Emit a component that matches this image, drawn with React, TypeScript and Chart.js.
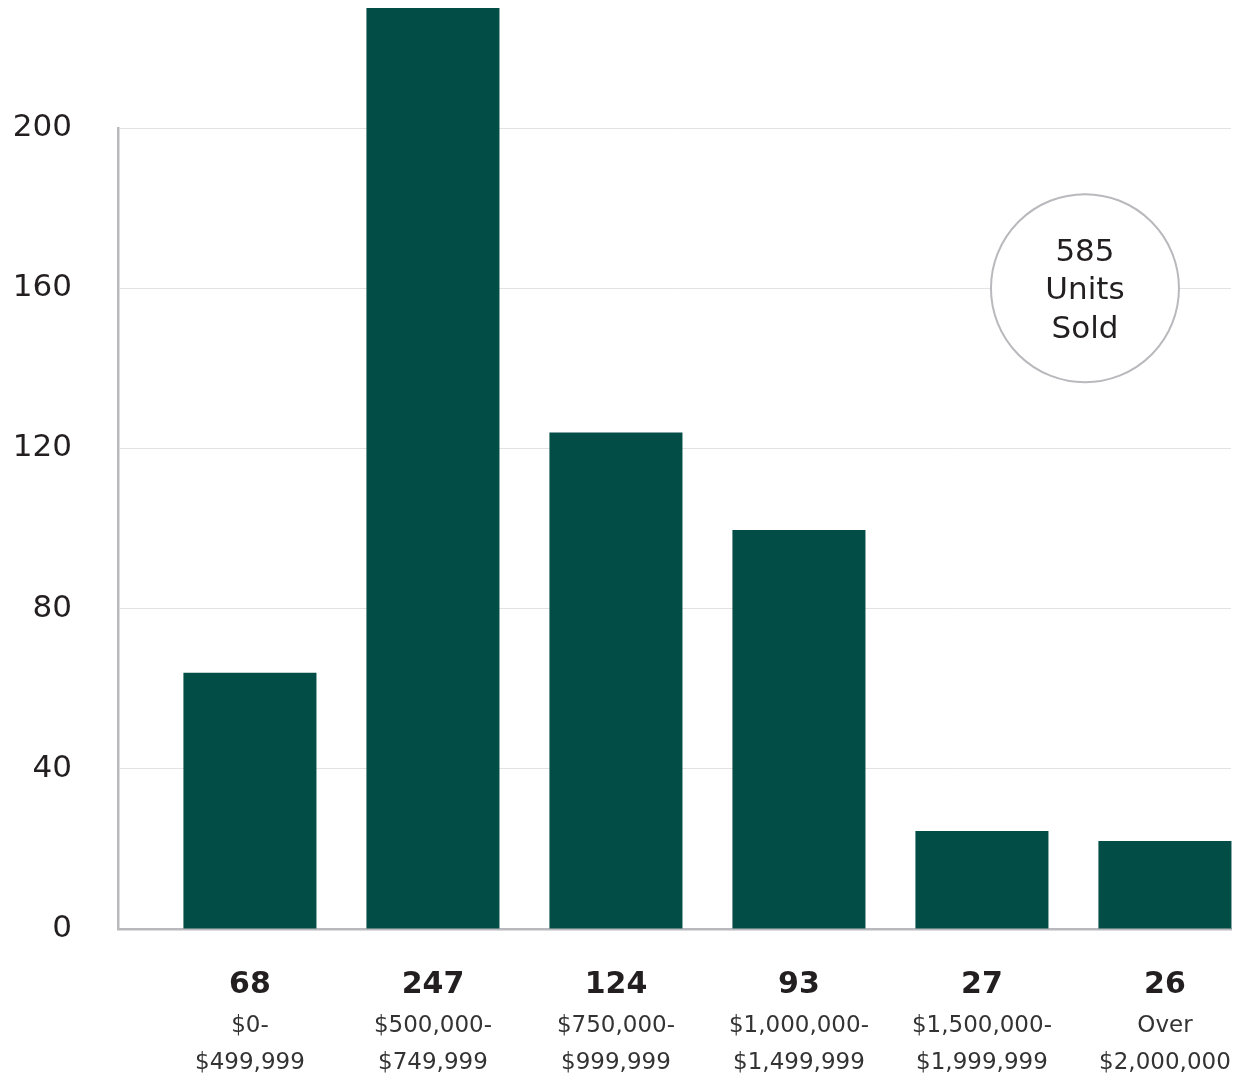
import React, { useEffect, useRef } from "react";
import { Chart, registerables } from "chart.js";

Chart.register(...registerables);

const counts = ["68", "247", "124", "93", "27", "26"];
const rangeLine1 = ["$0-", "$500,000-", "$750,000-", "$1,000,000-", "$1,500,000-", "Over"];
const rangeLine2 = ["$499,999", "$749,999", "$999,999", "$1,499,999", "$1,999,999", "$2,000,000"];
const barValues = [64, 247, 124, 99.6, 24.5, 22];
const yTicks = [0, 40, 80, 120, 160, 200];
const badgeLines = ["585", "Units", "Sold"];

const FONT = "'DejaVu Sans', sans-serif";
const BAR = "#024d46";
const AXIS = "#b9b9bd";

const labelsPlugin = {
  id: "customLabels",
  afterDraw(chart: any) {
    const ctx = chart.ctx;
    const xs = chart.scales.x;
    const ys = chart.scales.y;
    ctx.save();
    ctx.textAlign = "center";
    ctx.textBaseline = "middle";
    counts.forEach((c, i) => {
      const x = xs.getPixelForValue(i);
      ctx.fillStyle = "#231f20";
      ctx.font = `bold 30px ${FONT}`;
      ctx.fillText(c, x, 977);
      ctx.fillStyle = "#333333";
      ctx.font = `23px ${FONT}`;
      ctx.fillText(rangeLine1[i], x, 1018);
      ctx.fillText(rangeLine2[i], x, 1055);
    });
    // badge circle
    const cx = xs.getPixelForValue(4.563);
    const cy = ys.getPixelForValue(160);
    ctx.beginPath();
    ctx.arc(cx, cy, 94, 0, Math.PI * 2);
    ctx.fillStyle = "#ffffff";
    ctx.fill();
    ctx.lineWidth = 2;
    ctx.strokeStyle = AXIS;
    ctx.stroke();
    ctx.fillStyle = "#231f20";
    ctx.font = `31px ${FONT}`;
    badgeLines.forEach((t, k) => {
      ctx.fillText(t, cx, cy + 3 + (k - 1) * 38.5);
    });
    ctx.restore();
  },
};

export default function App() {
  const ref = useRef<HTMLCanvasElement | null>(null);
  useEffect(() => {
    document.documentElement.style.overflow = "hidden";
    const chart = new Chart(ref.current as HTMLCanvasElement, {
      type: "bar",
      data: {
        datasets: [
          {
            data: barValues.map((v, i) => ({ x: i, y: v })),
            backgroundColor: BAR,
            borderWidth: 0,
            barPercentage: 0.727,
            categoryPercentage: 1,
            clip: false as any,
          },
        ],
      },
      options: {
        animation: false,
        responsive: true,
        maintainAspectRatio: false,
        layout: { padding: { top: 120, right: 2, left: 0, bottom: 0 } },
        plugins: { legend: { display: false }, tooltip: { enabled: false } },
        scales: {
          x: {
            type: "linear",
            offset: false,
            min: -0.721,
            max: 5.361,
            afterBuildTicks(scale: any) {
              scale.ticks = counts.map((_, i) => ({ value: i }));
            },
            grid: { display: false, drawTicks: false, offset: false },
            border: { display: true, color: AXIS, width: 2.5 },
            ticks: { display: false },
            afterFit(scale: any) {
              scale.height = 150;
            },
          },
          y: {
            min: 0,
            max: 200,
            afterBuildTicks(scale: any) {
              scale.ticks = yTicks.map((v) => ({ value: v }));
            },
            grid: {
              drawTicks: false,
              color: (c: any) => (c.tick && c.tick.value === 0 ? "rgba(0,0,0,0)" : "#e2e2e2"),
              lineWidth: 1,
            },
            border: { display: true, color: AXIS, width: 2.5 },
            ticks: {
              padding: 46,
              color: "#231f20",
              font: { family: FONT, size: 31 },
            },
            afterFit(scale: any) {
              scale.width = 110;
            },
          },
        },
      },
      plugins: [labelsPlugin],
    });
    return () => chart.destroy();
  }, []);
  return (
    <div style={{ position: "relative", width: 1225, height: 1071 }}>
      <canvas ref={ref} />
    </div>
  );
}
